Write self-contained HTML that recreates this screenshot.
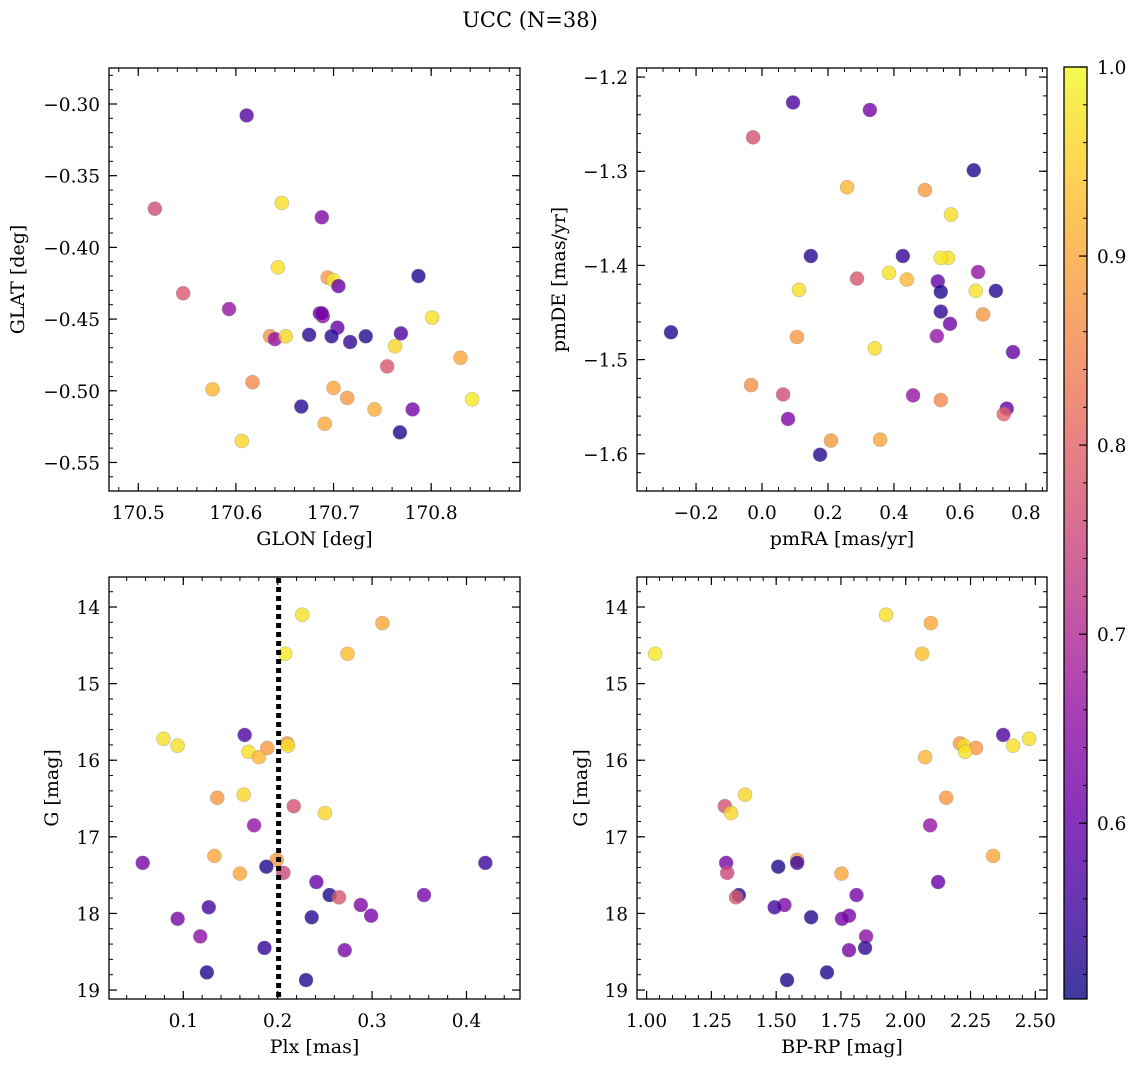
<!DOCTYPE html>
<html><head><meta charset="utf-8"><style>
html,body{margin:0;padding:0;background:#fff;}
svg text{font-family:"DejaVu Serif","Liberation Serif",serif;fill:#000;}
</style></head><body>
<svg id="fig" width="1136" height="1067" xmlns="http://www.w3.org/2000/svg">
<text x="530" y="27" font-size="21" text-anchor="middle">UCC (N=38)</text>
</svg>
<script>
// ---- data ----
const glon = [170.611,170.517,170.647,170.688,170.643,170.546,170.694,170.700,170.705,170.787,170.593,170.801,170.635,170.640,170.675,170.651,170.686,170.689,170.704,170.698,170.717,170.733,170.769,170.763,170.830,170.755,170.617,170.576,170.700,170.714,170.842,170.667,170.742,170.781,170.691,170.768,170.606,170.688];
const glat = [-0.308,-0.373,-0.369,-0.379,-0.414,-0.432,-0.421,-0.423,-0.427,-0.420,-0.443,-0.449,-0.462,-0.464,-0.461,-0.462,-0.446,-0.448,-0.456,-0.462,-0.466,-0.462,-0.460,-0.469,-0.477,-0.483,-0.494,-0.499,-0.498,-0.505,-0.506,-0.511,-0.513,-0.513,-0.523,-0.529,-0.535,-0.446];
const probPos = [0.58,0.76,0.97,0.63,0.97,0.78,0.88,0.98,0.60,0.52,0.66,0.97,0.87,0.66,0.53,0.96,0.60,0.65,0.60,0.53,0.54,0.53,0.57,0.96,0.90,0.78,0.86,0.92,0.90,0.88,0.98,0.53,0.91,0.62,0.90,0.52,0.96,0.62];

const pmra = [0.327,0.094,-0.027,0.642,0.258,0.494,0.573,0.148,0.427,0.564,0.542,0.385,0.655,0.288,0.439,0.533,0.112,0.648,0.542,0.709,-0.276,0.542,0.570,0.670,0.530,0.106,0.761,0.342,-0.033,0.064,0.458,0.542,0.742,0.733,0.079,0.209,0.358,0.176];
const pmde = [-1.235,-1.227,-1.264,-1.299,-1.317,-1.320,-1.346,-1.390,-1.390,-1.392,-1.392,-1.408,-1.407,-1.414,-1.415,-1.417,-1.426,-1.427,-1.428,-1.427,-1.471,-1.449,-1.462,-1.452,-1.475,-1.476,-1.492,-1.488,-1.527,-1.537,-1.538,-1.543,-1.552,-1.558,-1.563,-1.586,-1.585,-1.601];
const probPm = [0.62,0.57,0.77,0.52,0.92,0.88,0.97,0.53,0.54,0.97,0.98,0.97,0.66,0.78,0.92,0.60,0.97,0.97,0.52,0.53,0.52,0.54,0.61,0.88,0.66,0.88,0.60,0.97,0.87,0.76,0.66,0.86,0.60,0.80,0.63,0.88,0.90,0.53];

const plx = [0.226,0.311,0.208,0.274,0.165,0.079,0.094,0.210,0.211,0.189,0.169,0.180,0.164,0.136,0.217,0.250,0.175,0.133,0.199,0.057,0.420,0.188,0.206,0.160,0.241,0.255,0.265,0.355,0.288,0.127,0.299,0.236,0.094,0.118,0.186,0.271,0.125,0.230];
const bprp = [1.924,2.097,1.033,2.063,2.376,2.476,2.414,2.209,2.225,2.271,2.229,2.075,1.380,2.156,1.302,1.326,2.094,2.337,1.581,1.307,1.581,1.508,1.311,1.752,2.125,1.356,1.345,1.810,1.532,1.494,1.781,1.635,1.754,1.847,1.843,1.781,1.696,1.542];
const gmag = [14.10,14.21,14.61,14.61,15.67,15.72,15.81,15.78,15.81,15.84,15.89,15.96,16.45,16.49,16.60,16.69,16.85,17.25,17.30,17.34,17.34,17.39,17.47,17.48,17.59,17.76,17.79,17.76,17.89,17.92,18.03,18.05,18.07,18.30,18.45,18.48,18.77,18.87];
const probPhot = [0.97,0.90,0.98,0.93,0.57,0.97,0.97,0.88,0.97,0.88,0.97,0.92,0.96,0.88,0.77,0.96,0.66,0.90,0.88,0.62,0.55,0.52,0.75,0.90,0.60,0.52,0.78,0.62,0.63,0.56,0.62,0.53,0.62,0.65,0.54,0.62,0.52,0.52];

const plxCut = [0.201];
const cbTicks = [0.6,0.7,0.8,0.9,1.0];
const vmin = 0.507, vmax = 1.0;

// ---- helpers ----
const NS = "http://www.w3.org/2000/svg";
const svg = document.getElementById('fig');
const TFS = 18.5, LFS = 19;
function mk(tag, attrs, parent){const e=document.createElementNS(NS,tag);for(const k in attrs)e.setAttribute(k,attrs[k]);(parent||svg).appendChild(e);return e;}
const plasmaStops = [[0,[13,8,135]],[0.1,[65,4,157]],[0.2,[106,0,168]],[0.3,[143,13,164]],[0.4,[177,42,144]],[0.5,[204,71,120]],[0.6,[225,100,98]],[0.7,[242,132,75]],[0.8,[252,166,54]],[0.9,[252,206,37]],[1.0,[240,249,33]]];
function plasma(t){t=Math.max(0,Math.min(1,t));for(let i=1;i<plasmaStops.length;i++){if(t<=plasmaStops[i][0]){const a=plasmaStops[i-1],b=plasmaStops[i];const f=(t-a[0])/(b[0]-a[0]);const c=a[1].map((v,j)=>Math.round(v+(b[1][j]-v)*f));return `rgb(${c[0]},${c[1]},${c[2]})`;}}return 'rgb(240,249,33)';}
function fmt(v,d){let s=v.toFixed(d);if(v<-1e-9)s='\u2212'+s.slice(1);return s;}

function panel(cfg){
  const {name,x0,x1,y0,y1,xmin,xmax,ymin,ymax,xMaj,xMin,yMaj,yMin,xd,yd,xlabel,ylabel,ylabX,xs,ys,cs,invertY}=cfg;
  const g=mk('g',{});
  
  
  const sx=v=>x0+(v-xmin)/(xmax-xmin)*(x1-x0);
  const sy=invertY?(v=>y0+(v-ymin)/(ymax-ymin)*(y1-y0)):(v=>y1-(v-ymin)/(ymax-ymin)*(y1-y0));
  cfg.sx=sx;cfg.sy=sy;
  const eps=1e-9;
  for(let v=Math.ceil(xmin/xMin-eps)*xMin;v<=xmax+eps;v+=xMin){const X=sx(v);mk('line',{x1:X,x2:X,y1:y1,y2:y1-4,stroke:'#000','stroke-width':1},g);mk('line',{x1:X,x2:X,y1:y0,y2:y0+4,stroke:'#000','stroke-width':1},g);}
  for(let v=Math.ceil(ymin/yMin-eps)*yMin;v<=ymax+eps;v+=yMin){const Y=sy(v);mk('line',{x1:x0,x2:x0+4,y1:Y,y2:Y,stroke:'#000','stroke-width':1},g);mk('line',{x1:x1,x2:x1-4,y1:Y,y2:Y,stroke:'#000','stroke-width':1},g);}
  for(let v=Math.ceil(xmin/xMaj-eps)*xMaj;v<=xmax+eps;v+=xMaj){const X=sx(v);mk('line',{x1:X,x2:X,y1:y1,y2:y1-8,stroke:'#000','stroke-width':1.2},g);mk('line',{x1:X,x2:X,y1:y0,y2:y0+8,stroke:'#000','stroke-width':1.2},g);
    const t=mk('text',{x:X,y:y1+28,'font-size':TFS,'text-anchor':'middle'},g);t.textContent=fmt(v,xd);
    
    }
  for(let v=Math.ceil(ymin/yMaj-eps)*yMaj;v<=ymax+eps;v+=yMaj){const Y=sy(v);mk('line',{x1:x0,x2:x0+8,y1:Y,y2:Y,stroke:'#000','stroke-width':1.2},g);mk('line',{x1:x1,x2:x1-8,y1:Y,y2:Y,stroke:'#000','stroke-width':1.2},g);
    const t=mk('text',{x:x0-9,y:Y+7,'font-size':TFS,'text-anchor':'end'},g);t.textContent=fmt(v,yd);
    
    }
  for(let i=0;i<xs.length;i++){
    const c=mk('circle',{cx:sx(xs[i]),cy:sy(ys[i]),r:7,fill:plasma((cs[i]-vmin)/(vmax-vmin)),'fill-opacity':0.8,stroke:'#888','stroke-opacity':0.5,'stroke-width':0.6},g);
    
    
  }
  const fr=mk('rect',{x:x0,y:y0,width:x1-x0,height:y1-y0,fill:'none',stroke:'#000','stroke-width':1.3},g);
  
  
  const xl=mk('text',{x:(x0+x1)/2,y:y1+54,'font-size':LFS,'text-anchor':'middle'},g);xl.textContent=xlabel;
  
  
  const yl=mk('text',{x:ylabX,y:(y0+y1)/2,'font-size':LFS,'text-anchor':'middle',transform:`rotate(-90 ${ylabX} ${(y0+y1)/2})`},g);yl.textContent=ylabel;
  
  
  return g;
}

panel({name:'position-panel',x0:109,x1:520,y0:68,y1:491,xmin:170.470,xmax:170.891,ymin:-0.5699,ymax:-0.2749,xMaj:0.1,xMin:0.02,yMaj:0.05,yMin:0.01,xd:1,yd:2,xlabel:'GLON [deg]',ylabel:'GLAT [deg]',ylabX:24,xs:glon,ys:glat,cs:probPos});
panel({name:'proper-motion-panel',x0:637,x1:1047,y0:68,y1:491,xmin:-0.379,xmax:0.864,ymin:-1.6395,ymax:-1.1904,xMaj:0.2,xMin:0.05,yMaj:0.1,yMin:0.02,xd:1,yd:1,xlabel:'pmRA [mas/yr]',ylabel:'pmDE [mas/yr]',ylabX:565,xs:pmra,ys:pmde,cs:probPm});
const p3={name:'parallax-panel',x0:109,x1:520,y0:577,y1:999,xmin:0.0213,xmax:0.4567,ymin:13.608,ymax:19.117,xMaj:0.1,xMin:0.02,yMaj:1,yMin:0.2,xd:1,yd:0,xlabel:'Plx [mas]',ylabel:'G [mag]',ylabX:58,xs:plx,ys:gmag,cs:probPhot,invertY:true};
panel(p3);
const cut=mk('line',{x1:p3.sx(plxCut[0]),x2:p3.sx(plxCut[0]),y1:578,y2:998,stroke:'#000','stroke-width':5,'stroke-dasharray':'5,4'});


panel({name:'cmd-panel',x0:637,x1:1047,y0:577,y1:999,xmin:0.963,xmax:2.545,ymin:13.608,ymax:19.117,xMaj:0.25,xMin:0.05,yMaj:1,yMin:0.2,xd:2,yd:0,xlabel:'BP-RP [mag]',ylabel:'G [mag]',ylabX:587,xs:bprp,ys:gmag,cs:probPhot,invertY:true});

// colorbar
const defs=mk('defs',{});
const lg=mk('linearGradient',{id:'cbg',x1:0,y1:1,x2:0,y2:0},defs);
for(let i=0;i<=20;i++){mk('stop',{offset:i/20,'stop-color':plasma(i/20)},lg);}
const cb=mk('g',{});


const cby0=67,cby1=999,cbx0=1064,cbx1=1087;
mk('rect',{x:cbx0,y:cby0,width:cbx1-cbx0,height:cby1-cby0,fill:'url(#cbg)','fill-opacity':0.8},cb);
const cs=v=>cby1-(v-vmin)/(vmax-vmin)*(cby1-cby0);
for(let v=0.52;v<=1.0001;v+=0.02){mk('line',{x1:cbx1,x2:cbx1-4,y1:cs(v),y2:cs(v),stroke:'#000','stroke-width':1},cb);}
cbTicks.forEach(v=>{const Y=cs(v);mk('line',{x1:cbx1,x2:cbx1-8,y1:Y,y2:Y,stroke:'#000','stroke-width':1.2},cb);
  const t=mk('text',{x:cbx1+10,y:Y+7,'font-size':TFS},cb);t.textContent=v.toFixed(1);
  
  });
mk('rect',{x:cbx0,y:cby0,width:cbx1-cbx0,height:cby1-cby0,fill:'none',stroke:'#000','stroke-width':1.3},cb);
</script>
</body></html>
